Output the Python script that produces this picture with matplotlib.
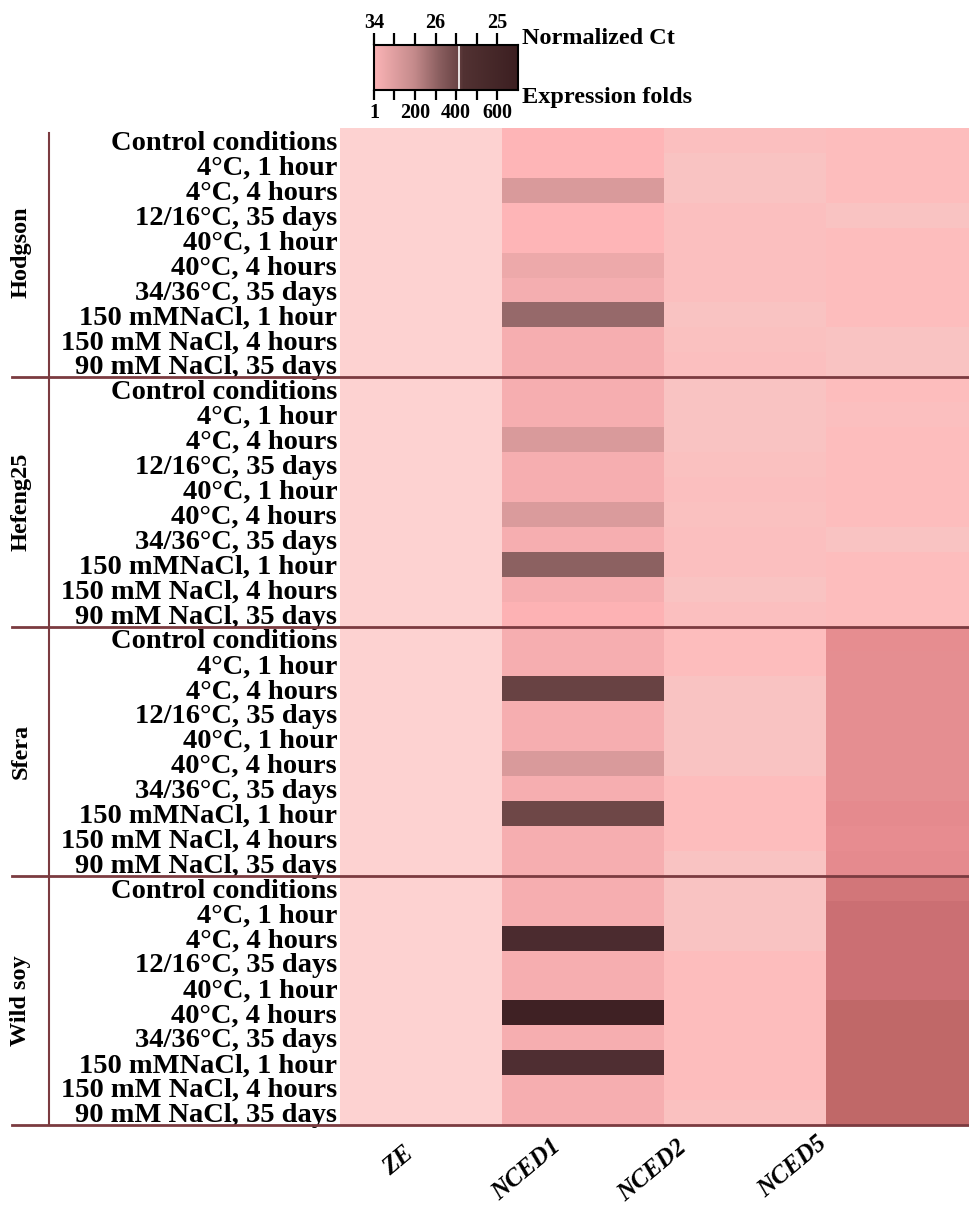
import matplotlib.pyplot as plt
import numpy as np
from matplotlib.colors import LinearSegmentedColormap
from matplotlib.transforms import blended_transform_factory

plt.rcParams['font.family'] = ['Liberation Serif', 'DejaVu Serif']
plt.rcParams['font.weight'] = 'bold'

cultivars = ['Hodgson', 'Hefeng25', 'Sfera', 'Wild soy']
treatments = ['Control conditions', '4°C, 1 hour', '4°C, 4 hours',
              '12/16°C, 35 days', '40°C, 1 hour', '40°C, 4 hours',
              '34/36°C, 35 days', '150 mMNaCl, 1 hour',
              '150 mM NaCl, 4 hours', '90 mM NaCl, 35 days']
genes = ['ZE', 'NCED1', 'NCED2', 'NCED5']

# expression folds, 10 treatments per cultivar (Hodgson, Hefeng25, Sfera, Wild soy)
ze_fold = [0, 0, 0, 0, 0, 0, 0, 0, 0, 0,
           0, 0, 0, 0, 0, 0, 0, 0, 0, 0,
           0, 0, 0, 0, 0, 0, 0, 0, 0, 0,
           0, 0, 0, 0, 0, 0, 0, 0, 0, 0]
nced1_fold = [30, 30, 110, 30, 30, 70, 48, 380, 45, 45,
              45, 45, 110, 45, 45, 108, 45, 420, 45, 35,
              45, 45, 520, 45, 45, 110, 45, 505, 45, 45,
              45, 45, 600, 45, 45, 660, 45, 590, 45, 45]
nced2_fold = [18, 11, 11, 18, 18, 17, 17, 12, 16, 17,
              11, 11, 11, 14, 18, 14, 18, 18, 13, 18,
              20, 20, 11, 11, 11, 11, 20, 20, 20, 12,
              13, 11, 11, 20, 20, 20, 20, 20, 20, 15]
nced5_fold = [20, 20, 20, 12, 20, 20, 20, 20, 12, 12,
              20, 17, 20, 20, 20, 20, 12, 20, 20, 20,
              150, 145, 145, 145, 145, 145, 145, 155, 152, 155,
              200, 230, 230, 230, 230, 260, 260, 260, 260, 260]

# legend scale ticks
fold_ticks = [1, 100, 200, 300, 400, 500, 600]
fold_labels = ['1', '', '200', '', '400', '', '600']
ct_labels = ['34', '', '', '26', '', '', '25']

vmax = 700
heat_nodes = [(0, '#FDD2D1'), (11, '#F9C3C2'), (20, '#FDBCBD'), (30, '#FFB3B5'),
              (45, '#F5AEB0'), (70, '#EDA9AA'), (110, '#D99A9B'), (150, '#E78C90'),
              (200, '#D27679'), (230, '#CB6F73'), (260, '#C06868'), (380, '#96696A'),
              (420, '#8C6161'), (510, '#6C4546'), (600, '#4B2B2F'), (660, '#3F2124'),
              (700, '#351A1C')]
heat_cmap = LinearSegmentedColormap.from_list('fold', [(f / vmax, c) for f, c in heat_nodes])
legend_cmap = LinearSegmentedColormap.from_list(
    'legend', [(0, '#FBB4B6'), (0.28, '#C48A8B'), (0.45, '#8B5F60'),
               (0.58, '#6B4546'), (0.62, '#523233'), (1, '#3C1F21')])

W, H = 969, 1206
fig = plt.figure(figsize=(W / 100, H / 100), dpi=100)

# heatmap
ax = fig.add_axes([340 / W, 1 - 1125 / H, 648 / W, 997 / H])
data = np.column_stack([ze_fold, nced1_fold, nced2_fold, nced5_fold])
nrow = data.shape[0]
ax.pcolormesh(np.arange(5), np.arange(nrow + 1), data, cmap=heat_cmap,
              vmin=0, vmax=vmax, shading='flat')
ax.set_xlim(0, 4)
ax.set_ylim(nrow, 0)
for s in ax.spines.values():
    s.set_visible(False)
ax.set_xticks([])
ax.set_yticks(np.arange(nrow) + 0.5)
ax.set_yticklabels(treatments * len(cultivars), fontsize=20.5)
ax.tick_params(axis='y', length=0, pad=2)

# gene names under the columns
gene_x = [0.36, 1.15, 1.93, 2.79]
gene_dy = [-36, -45, -46, -42]
for g, gx, dy in zip(genes, gene_x, gene_dy):
    ax.annotate(g, xy=(gx, nrow), xycoords='data', xytext=(0, dy),
                textcoords='offset pixels', rotation=40, rotation_mode='anchor',
                ha='center', va='center', fontsize=18, style='italic',
                annotation_clip=False)

# group separators and cultivar names
line_c = '#7B3B40'
tr = blended_transform_factory(fig.transFigure, ax.transData)
for k, name in enumerate(cultivars):
    y_end = (k + 1) * 10
    ax.plot([12 / W, 1], [y_end, y_end], transform=tr, color=line_c,
            lw=2, clip_on=False)
    ax.text(21 / W, k * 10 + 5, name, transform=tr, rotation=90,
            ha='center', va='center', fontsize=17.5)
ax.plot([49 / W, 49 / W], [0.2, nrow], transform=tr, color=line_c,
        lw=1.5, clip_on=False)

# legend bar
cax = fig.add_axes([374 / W, 1 - 90 / H, 144 / W, 45 / H])
cax.imshow(np.linspace(1, vmax, 256)[None, :], aspect='auto', cmap=legend_cmap,
           extent=[1, vmax, 0, 1])
cax.axvline(415, color='white', lw=1.2)
cax.set_xlim(1, vmax)
cax.set_yticks([])
cax.set_xticks(fold_ticks)
cax.set_xticklabels(fold_labels, fontsize=14.5)
cax.tick_params(axis='x', direction='out', length=7, width=1.6, pad=2)
for s in cax.spines.values():
    s.set_linewidth(1.5)
top = cax.secondary_xaxis('top')
top.set_xticks(fold_ticks)
top.set_xticklabels(ct_labels, fontsize=14.5)
top.tick_params(direction='out', length=8.5, width=1.6, pad=0)
top.spines['top'].set_visible(False)

fig.text(522 / W, 1 - 39 / H, 'Normalized Ct', ha='left', va='center', fontsize=17.5)
fig.text(522 / W, 1 - 97 / H, 'Expression folds', ha='left', va='center', fontsize=17.5)

fig.savefig('out.png', dpi=100)
